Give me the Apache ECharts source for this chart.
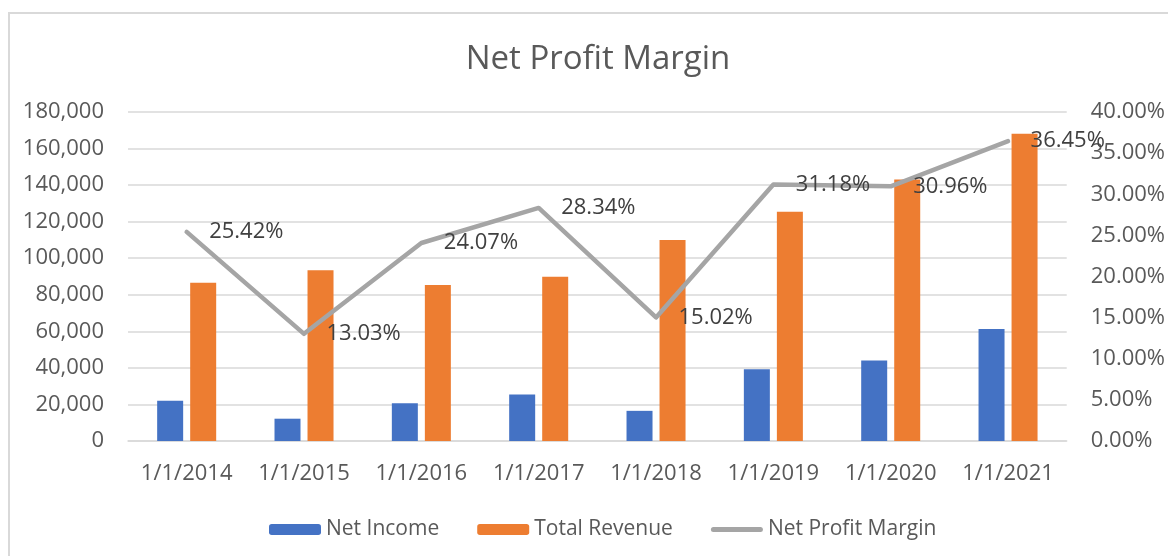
<!DOCTYPE html>
<html>
	<head>
		<meta charset="UTF-8">
		<title>Net Profit Margin</title>
		<style type="text/css">
		  html, body{
		  	margin: 0;
		  	padding: 0;
		  	background: #fff;
		  }
		  #chart{
		  	width: 1168px;
		  	height: 556px;
		  }
		</style>
	</head>
	<body>
	  <div id="chart"></div>
	  <script src="https://cdn.jsdelivr.net/npm/echarts@6/dist/echarts.min.js" type="text/javascript"></script>
	  <script type="text/javascript">
	  	var years = ['1/1/2014', '1/1/2015', '1/1/2016', '1/1/2017', '1/1/2018', '1/1/2019', '1/1/2020', '1/1/2021'];
	  	var netIncome = [22000, 12200, 20600, 25500, 16500, 39200, 44000, 61300];
	  	var totalRevenue = [86600, 93400, 85300, 89800, 110000, 125400, 143100, 168100];
	  	var profitMargin = [25.42, 13.03, 24.07, 28.34, 15.02, 31.18, 30.96, 36.45];

	  	var font = '"Open Sans", "Noto Sans", sans-serif';
	  	var chart = echarts.init(document.getElementById('chart'));
	  	chart.setOption({
	  	  animation: false,
	  	  textStyle: { fontFamily: font },
	  	  // the outer frame of the chart, cut by the window at right and bottom
	  	  graphic: [{
	  	  	type: 'rect',
	  	  	shape: { x: 9, y: 13, width: 1300, height: 700 },
	  	  	style: { fill: 'none', stroke: '#D9D9D9', lineWidth: 2 },
	  	  	silent: true
	  	  }],
	  	  title: {
	  	  	text: 'Net Profit Margin',
	  	  	left: 593,
	  	  	textAlign: 'center',
	  	  	top: 38,
	  	  	textStyle: {
	  	  	  fontFamily: font,
	  	  	  fontSize: 33,
	  	  	  fontWeight: 'normal',
	  	  	  color: '#595959'
	  	  	}
	  	  },
	  	  legend: {
	  	  	left: 264,
	  	  	top: 514,
	  	  	itemWidth: 52,
	  	  	itemHeight: 11,
	  	  	itemGap: 38,
	  	  	textStyle: {
	  	  	  fontFamily: font,
	  	  	  fontSize: 21,
	  	  	  color: '#595959'
	  	  	},
	  	  	data: ['Net Income', 'Total Revenue', {
	  	  	  name: 'Net Profit Margin',
	  	  	  icon: 'path://M2.5,0 L49.5,0 A2.5,2.5 0 0 1 49.5,5 L2.5,5 A2.5,2.5 0 0 1 2.5,0 Z'
	  	  	}]
	  	  },
	  	  grid: {
	  	  	left: 128,
	  	  	right: 99,
	  	  	top: 112,
	  	  	bottom: 115
	  	  },
	  	  xAxis: [{
	  	  	type: 'category',
	  	  	data: years,
	  	  	axisLine: { lineStyle: { color: '#D9D9D9', width: 1.5 } },
	  	  	axisTick: { show: false },
	  	  	axisLabel: {
	  	  	  interval: 0,
	  	  	  margin: 22,
	  	  	  fontSize: 22,
	  	  	  color: '#595959',
	  	  	  fontFamily: font
	  	  	}
	  	  }],
	  	  yAxis: [{
	  	  	type: 'value',
	  	  	min: 0,
	  	  	max: 180000,
	  	  	interval: 20000,
	  	  	axisLine: { show: false },
	  	  	axisTick: { show: false },
	  	  	splitLine: { lineStyle: { color: '#D9D9D9', width: 1.5 } },
	  	  	axisLabel: {
	  	  	  margin: 24,
	  	  	  fontSize: 22,
	  	  	  color: '#595959',
	  	  	  fontFamily: font,
	  	  	  formatter: function(v){
	  	  	  	return v.toLocaleString('en-US');
	  	  	  }
	  	  	}
	  	  }, {
	  	  	type: 'value',
	  	  	min: 0,
	  	  	max: 40,
	  	  	interval: 5,
	  	  	position: 'right',
	  	  	axisLine: { show: false },
	  	  	axisTick: { show: false },
	  	  	splitLine: { show: false },
	  	  	axisLabel: {
	  	  	  margin: 24,
	  	  	  fontSize: 22,
	  	  	  color: '#595959',
	  	  	  fontFamily: font,
	  	  	  formatter: function(v){
	  	  	  	return v.toFixed(2) + '%';
	  	  	  }
	  	  	}
	  	  }],
	  	  series: [{
	  	  	name: 'Net Income',
	  	  	type: 'bar',
	  	  	data: netIncome,
	  	  	barWidth: 26,
	  	  	barGap: '27%',
	  	  	itemStyle: { color: '#4472C4' }
	  	  }, {
	  	  	name: 'Total Revenue',
	  	  	type: 'bar',
	  	  	data: totalRevenue,
	  	  	barWidth: 26,
	  	  	barGap: '27%',
	  	  	itemStyle: { color: '#ED7D31' }
	  	  }, {
	  	  	name: 'Net Profit Margin',
	  	  	type: 'line',
	  	  	yAxisIndex: 1,
	  	  	data: profitMargin,
	  	  	symbol: 'circle',
	  	  	symbolSize: 1,
	  	  	showSymbol: true,
	  	  	z: 5,
	  	  	lineStyle: { color: '#A5A5A5', width: 4.5, cap: 'round', join: 'round' },
	  	  	itemStyle: { color: '#A5A5A5' },
	  	  	label: {
	  	  	  show: true,
	  	  	  position: 'right',
	  	  	  distance: 22,
	  	  	  fontSize: 22,
	  	  	  color: '#404040',
	  	  	  fontFamily: font,
	  	  	  formatter: function(p){
	  	  	  	return p.value.toFixed(2) + '%';
	  	  	  }
	  	  	}
	  	  }]
	  	});
	  </script>
	</body>
</html>
